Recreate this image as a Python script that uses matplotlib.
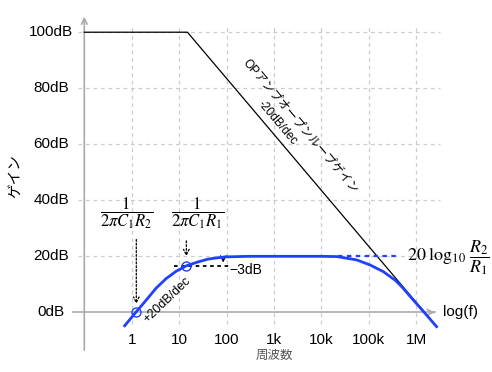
import numpy as np
import matplotlib
matplotlib.use('Agg')
import matplotlib.pyplot as plt

plt.rcParams['font.family'] = ['Liberation Sans', 'Noto Sans CJK JP', 'DejaVu Sans']
plt.rcParams['mathtext.fontset'] = 'stix'

# closed-loop gain (blue)
freq_hz = [0.71, 1.25, 2.03, 3.3, 5.37, 8.73, 14.2, 25.1, 40.7, 66, 99, 300, 1e3, 1e4,
           2.14e4, 5.6e4, 1.07e5, 2.04e5, 3.59e5, 5.0e5, 8.7e5, 1.55e6, 2.69e6]
gain_db = [-4.8, 0.2, 4.4, 8.7, 12.1, 14.7, 16.6, 18.0, 19.0, 19.5, 19.8, 20.0, 20.0, 20.0,
           19.9, 18.7, 16.9, 14.5, 11.5, 9.1, 4.4, -0.4, -5.1]

# open-loop gain (black)
ol_freq = [0.1, 15, 2.75e6]
ol_db = [100, 100, -5.2]

corner_freq = [1.25, 14.2]
corner_db = [0.2, 16.6]

x_ticks = [1, 10, 100, 1e3, 1e4, 1e5, 1e6]
x_labels = ['1', '10', '100', '1k', '10k', '100k', '1M']
y_ticks = [0, 20, 40, 60, 80, 100]
y_labels = ['0dB', '20dB', '40dB', '60dB', '80dB', '100dB']

fig = plt.figure(figsize=(4.92, 3.72), dpi=100)
ax = fig.add_axes([0, 0, 1, 1])
ax.set_xscale('log')
ax.set_xlim(10 ** -2.778, 10 ** 7.60)
ax.set_ylim(-21.3, 111.5)
ax.axis('off')

grid_kw = dict(color='#cccccc', lw=0.9, linestyles=(0, (3, 3)), zorder=0)
ax.vlines(x_ticks, -4, 102, **grid_kw)
ax.hlines(y_ticks[1:], 10 ** -1.14, 10 ** 6.5, **grid_kw)

# axes
ax.plot([10 ** -1.24, 10 ** 6.4], [0, 0], color='#aaaaaa', lw=1.2, zorder=1)
ax.annotate('', xy=(10 ** 6.45, 0), xytext=(10 ** 6.3, 0),
            arrowprops=dict(arrowstyle='->', color='#aaaaaa', lw=1.2))
ax.annotate('', xy=(0.1, 106.5), xytext=(0.1, -14.5),
            arrowprops=dict(arrowstyle='->', color='#aaaaaa', lw=1.2))

for xt, lab in zip(x_ticks, x_labels):
    ax.text(xt, -10, lab, ha='center', va='center', fontsize=11)
for yt, lab in zip(y_ticks, y_labels):
    ax.text(10 ** -1.7, yt, lab, ha='center', va='center', fontsize=11)
ax.text(10 ** 6.57, 0, 'log(f)', ha='left', va='center', fontsize=11)
ax.text(10 ** -2.46, 48.7, 'ゲイン', rotation=90, ha='center', va='center', fontsize=10.5)
ax.text(10 ** 3.02, -15.6, '周波数', ha='center', va='center', fontsize=9, color='#555555')

# curves
ax.plot(ol_freq, ol_db, color='black', lw=0.9, zorder=3)
ax.plot(freq_hz, gain_db, color='#2040ff', lw=2, zorder=4, solid_joinstyle='round')
ax.plot([2.2e4, 10 ** 5.6], [20, 20], color='#2040ff', lw=1.6, ls=(0, (2, 2)), zorder=4)
ax.plot(corner_freq, corner_db, 'o', ms=6.5, mfc='none', mec='#2040ff', mew=1, zorder=5)

# -3dB marker
ax.plot([10 ** 0.89, 10 ** 2.07], [16.5, 16.5], color='black', lw=1.3, ls=(0, (2, 2)), zorder=3)
ax.annotate('', xy=(10 ** 1.93, 16.8), xytext=(10 ** 1.93, 20.3),
            arrowprops=dict(arrowstyle='->', color='black', lw=0.8))
ax.text(10 ** 2.05, 15.0, '−3dB', ha='left', va='center', fontsize=10)

# corner frequency labels
arrow_kw = dict(arrowstyle='->', color='black', lw=0.9, linestyle=(0, (1.5, 1.5)))
ax.annotate('', xy=(corner_freq[0], 2.0), xytext=(corner_freq[0], 27),
            arrowprops=arrow_kw)
ax.annotate('', xy=(corner_freq[1], 19.0), xytext=(corner_freq[1], 26.5),
            arrowprops=arrow_kw)
ax.text(10 ** -0.1, 35.5, r'$\dfrac{1}{2\pi C_1 R_2}$', ha='center', va='center', fontsize=12)
ax.text(10 ** 1.38, 35.5, r'$\dfrac{1}{2\pi C_1 R_1}$', ha='center', va='center', fontsize=12)
ax.text(10 ** 5.81, 19.3, r'$20\;\log_{10}\,\dfrac{R_2}{R_1}$', ha='left', va='center',
        fontsize=13)

# slope labels
fig.canvas.draw()
p1 = ax.transData.transform((1e2, 80))
p2 = ax.transData.transform((1e3, 60))
ang = np.degrees(np.arctan2(p2[1] - p1[1], p2[0] - p1[0]))
ax.text(10 ** 3.57, 66.5, 'OPアンプオープンループゲイン', rotation=ang,
        rotation_mode='anchor', ha='center', va='center', fontsize=8.6)
ax.text(10 ** 3.07, 67.5, '-20dB/dec', rotation=ang,
        rotation_mode='anchor', ha='center', va='center', fontsize=8.6)
ax.text(10 ** 0.75, 4.4, '+20dB/dec', rotation=-ang - 6,
        rotation_mode='anchor', ha='center', va='center', fontsize=9)

fig.savefig('out.png', dpi=100)
